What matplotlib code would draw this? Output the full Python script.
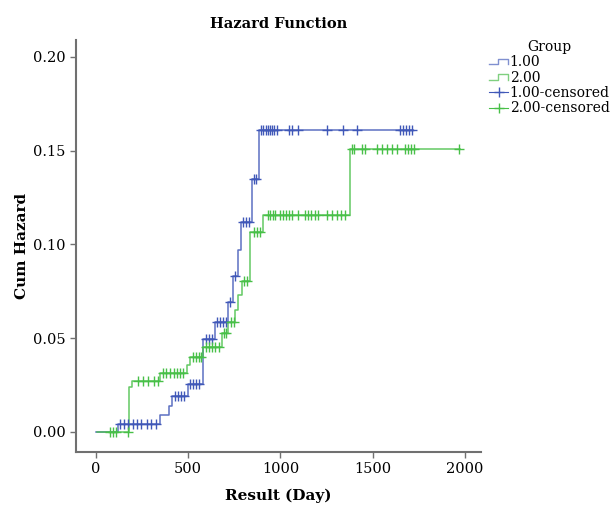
import numpy as np
import matplotlib
matplotlib.use("Agg")
import matplotlib.pyplot as plt
from matplotlib.legend_handler import HandlerBase
from matplotlib.lines import Line2D

# step times (day) and cumulative hazard for each group
t1 = [0, 119, 347, 396, 412, 499, 580, 645, 715, 743, 770, 786, 846, 883, 1718]
h1 = [0, 0.004, 0.0091, 0.0139, 0.0192, 0.0256, 0.0496, 0.0587, 0.0693, 0.0832,
      0.0971, 0.112, 0.135, 0.161, 0.161]
t2 = [5, 179, 195, 347, 493, 509, 580, 683, 715, 753, 770, 791, 835, 905, 1377, 1975]
h2 = [0, 0.024, 0.0272, 0.0315, 0.0357, 0.040, 0.0453, 0.0528, 0.0587, 0.065,
      0.073, 0.0805, 0.1067, 0.1157, 0.151, 0.151]

# censored times
c1 = [130, 152, 173, 201, 222, 244, 276, 298, 325,
      428, 444, 461, 477, 509, 526, 542, 558, 596, 612, 629,
      656, 672, 688, 705, 726, 753, 797, 813, 829, 856, 867,
      894, 905, 921, 932, 943, 954, 965, 981, 1046, 1062, 1095,
      1252, 1339, 1415, 1648, 1664, 1680, 1696, 1713]
c2 = [76, 92, 108, 173, 228, 255, 282, 314, 336,
      363, 379, 401, 423, 439, 455, 472, 526, 542, 558, 569,
      596, 612, 629, 645, 667, 694, 705, 732, 748, 802, 818,
      856, 873, 889, 932, 943, 959, 970, 997, 1014, 1030, 1046,
      1062, 1095, 1133, 1149, 1165, 1187, 1203, 1252, 1279, 1306,
      1328, 1350, 1388, 1398, 1442, 1458, 1523, 1550, 1577, 1604,
      1631, 1675, 1691, 1707, 1724, 1968]

blue = '#4058b8'
green = '#48c048'


def at(t, h, c):
    idx = np.searchsorted(t, c, side='right') - 1
    return np.array(h)[idx]


class StepHandler(HandlerBase):
    def create_artists(self, legend, orig, x0, y0, w, h, fontsize, trans):
        xs = [x0, x0 + w * 0.45, x0 + w * 0.45, x0 + w, x0 + w]
        ys = [y0 + h * 0.2, y0 + h * 0.2, y0 + h * 0.75, y0 + h * 0.75, y0 + h * 0.2]
        ln = Line2D(xs, ys, color=orig.get_color(), lw=1)
        ln.set_transform(trans)
        return [ln]


plt.rcParams['font.family'] = ['DejaVu Serif']
fig = plt.figure(figsize=(6.1, 5.07), dpi=100)
ax = fig.add_axes([0.1246, 0.1085, 0.664, 0.8125])

ax.step(t1, h1, where='post', color=blue, lw=1.1, alpha=0.85)
ax.step(t2, h2, where='post', color=green, lw=1.1, alpha=0.85)
ax.plot(c1, at(t1, h1, c1), '+', color=blue, ms=6.5, mew=1.0)
ax.plot(c2, at(t2, h2, c2), '+', color=green, ms=6.5, mew=1.0)

ax.set_xlim(-108, 2087)
ax.set_ylim(-0.0107, 0.209)
ax.set_xticks([0, 500, 1000, 1500, 2000])
ax.set_yticks([0.0, 0.05, 0.10, 0.15, 0.20])
ax.set_yticklabels(['0.00', '0.05', '0.10', '0.15', '0.20'])
for s in ['top', 'right']:
    ax.spines[s].set_visible(False)
for s in ['left', 'bottom']:
    ax.spines[s].set_color('#707070')
    ax.spines[s].set_linewidth(1.5)
ax.tick_params(colors='#707070', labelcolor='black', labelsize=10.5, length=4, width=1)

ax.set_title('Hazard Function', fontsize=10.5, fontweight='bold', pad=9)
ax.set_xlabel('Result (Day)', fontsize=11, fontweight='bold', labelpad=9)
ax.set_ylabel('Cum Hazard', fontsize=11, fontweight='bold', labelpad=3)

hs = [Line2D([], [], color='#8090d0'), Line2D([], [], color='#80d080'),
      Line2D([], [], color=blue, marker='+', ms=7, lw=0.8),
      Line2D([], [], color=green, marker='+', ms=7, lw=0.8)]
labs = ['1.00', '2.00', '1.00-censored', '2.00-censored']
leg = fig.legend(hs, labs, title='Group', loc='upper left',
                 bbox_to_anchor=(0.79, 0.935), frameon=False, fontsize=10,
                 title_fontsize=10, handlelength=1.4, handletextpad=0.1,
                 labelspacing=0.1, borderpad=0,
                 handler_map={hs[0]: StepHandler(), hs[1]: StepHandler()})

fig.savefig('out.png', dpi=100)
